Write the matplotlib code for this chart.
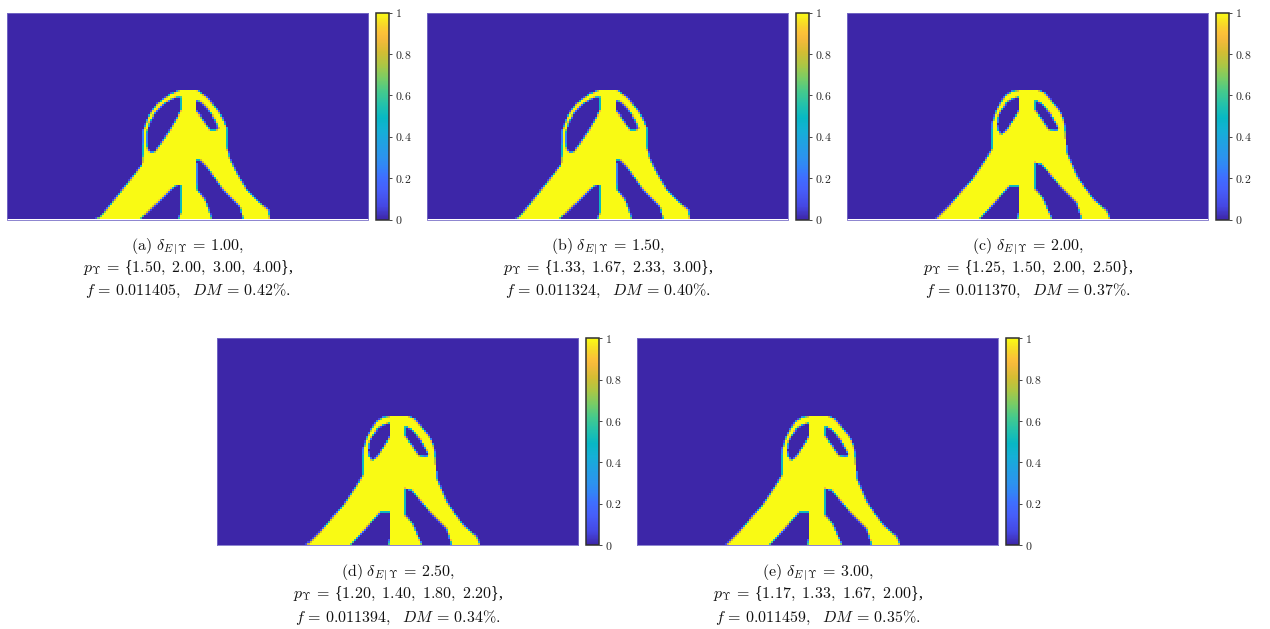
import numpy as np
import matplotlib
matplotlib.use("Agg")
import matplotlib.pyplot as plt
from matplotlib.path import Path
from matplotlib.colors import LinearSegmentedColormap

plt.rcParams['mathtext.fontset'] = 'cm'
plt.rcParams['font.family'] = ['Liberation Serif', 'DejaVu Serif']

# ---------------- data ----------------
labels = ['a', 'b', 'c', 'd', 'e']
delta = [1.00, 1.50, 2.00, 2.50, 3.00]
p_sets = [[1.50, 2.00, 3.00, 4.00],
          [1.33, 1.67, 2.33, 3.00],
          [1.25, 1.50, 2.00, 2.50],
          [1.20, 1.40, 1.80, 2.20],
          [1.17, 1.33, 1.67, 2.00]]
f_vals = ['0.011405', '0.011324', '0.011370', '0.011394', '0.011459']
dm_vals = [0.42, 0.40, 0.37, 0.34, 0.35]
shape_of_panel = ['A', 'A', 'D', 'D', 'D']

cbar_ticks = [0, 0.2, 0.4, 0.6, 0.8, 1]
cbar_ticklabels = ['0', '0.2', '0.4', '0.6', '0.8', '1']

# design domain (x to the right, y downward from top), density-field outlines
DOM_W, DOM_H = 361.0, 206.6
NX, NY = 180, 103

outer_A = [(89.7, 206.6), (96, 200.6), (109.4, 184), (122.7, 167.3), (134.4, 152.3),
           (135.4, 140.6), (136, 117.3), (141, 104), (149.4, 92.3), (162.7, 82.3),
           (171, 79), (172.7, 78), (189.4, 78), (199.4, 85.6), (209.4, 97.3),
           (216, 107.3), (219.4, 115.6), (219.4, 134), (222.7, 147.3), (229.4, 160.6),
           (239.4, 177.3), (252.7, 190.6), (261, 197.3), (262.7, 206.6),
           (236, 206.6), (232.7, 194), (216, 177.3), (199.4, 154), (192.7, 147.3),
           (188.7, 147.3), (189.4, 177.3), (197.7, 187.3), (204.4, 206.6),
           (171, 206.6), (173.4, 200.6), (173.4, 172.3), (169.4, 172.3),
           (162.7, 177.3), (149.4, 190.6), (132.7, 206.6)]
holes_A = [
    [(173.2, 84.3), (164.7, 86.8), (155.7, 92.3), (147.7, 100.3), (142.2, 109.3),
     (139.2, 119.3), (138.7, 129.3), (140.2, 137.3), (143.7, 140.3), (147.7, 138.8),
     (154.7, 129.3), (162.7, 117.3), (169.7, 105.3), (173.7, 97.3)],
    [(188.7, 88.3), (193.7, 90.3), (200.7, 97.3), (207.7, 107.3), (211.2, 115.3),
     (208.7, 117.3), (202.7, 117.3), (196.7, 109.3), (191.7, 102.3), (188.7, 99.3)],
]

outer_D = [(89.4, 206.6), (102.7, 193.4), (114, 180), (126, 166.7), (139.4, 146.7),
           (145.4, 136.7), (145.4, 120), (146, 110), (149.4, 100), (154, 91),
           (159.4, 83.4), (166, 79.5), (172.7, 78.4), (191, 78.4), (197, 81),
           (206, 91.7), (212, 99), (216, 106.7), (217.7, 116.7), (219.4, 140),
           (229.4, 163.4), (238, 176), (246, 186.7), (259.4, 198.4), (262.7, 206.6),
           (234.4, 206.6), (229.4, 190), (212.7, 173.4), (194.4, 151.7), (187.7, 150),
           (187.7, 176.7), (195, 185), (204.4, 206.6),
           (171, 206.6), (172.7, 200), (172.7, 173.4), (162.7, 173.4), (148, 190),
           (132.7, 206.6)]
holes_D = [
    [(172.7, 85), (166, 86.7), (160, 90.5), (156, 96.7), (152.5, 101.5), (151, 106.7),
     (150.5, 112), (151, 116.7), (154.4, 121.7), (157.5, 120), (161, 116.7),
     (165, 110), (169.4, 103.4), (172.7, 98.4)],
    [(187.7, 88.4), (194.4, 91.7), (204.4, 103.4), (211, 115), (209.4, 118.4),
     (201, 116.7), (194.4, 106.7), (187.7, 98.4)],
]
shapes = {'A': (outer_A, holes_A), 'D': (outer_D, holes_D)}

# parula-like colormap anchors
parula_pos = [0.0, 0.0635, 0.143, 0.206, 0.254, 0.302, 0.365, 0.429, 0.492, 0.556,
              0.619, 0.683, 0.746, 0.81, 0.873, 0.905, 0.937, 1.0]
parula_rgb = [(0.2422, 0.1504, 0.6603), (0.27, 0.28, 0.89), (0.276, 0.37, 0.98),
              (0.244, 0.436, 0.999), (0.1986, 0.52, 0.97), (0.17, 0.58, 0.93),
              (0.13, 0.63, 0.89), (0.08, 0.69, 0.84), (0.03, 0.72, 0.77),
              (0.14, 0.76, 0.67), (0.27, 0.79, 0.55), (0.47, 0.80, 0.40),
              (0.67, 0.78, 0.27), (0.83, 0.74, 0.20), (0.96, 0.73, 0.23),
              (0.99, 0.76, 0.22), (0.97, 0.83, 0.17), (0.9769, 0.9839, 0.0805)]
parula = LinearSegmentedColormap.from_list('parula', list(zip(parula_pos, parula_rgb)))


def density(outer, holes, ss=4):
    xs = (np.arange(NX * ss) + 0.5) / (NX * ss) * DOM_W
    ys = (np.arange(NY * ss) + 0.5) / (NY * ss) * DOM_H
    X, Y = np.meshgrid(xs, ys)
    pts = np.column_stack([X.ravel(), Y.ravel()])
    inside = Path(outer).contains_points(pts)
    for h in holes:
        inside &= ~Path(h).contains_points(pts)
    m = inside.reshape(NY * ss, NX * ss).astype(float)
    return m.reshape(NY, ss, NX, ss).mean(axis=(1, 3))


fields = {k: density(*v) for k, v in shapes.items()}

# ---------------- layout ----------------
W, H = 1270, 629
fig = plt.figure(figsize=(W / 100, H / 100), dpi=100)


def add_ax(l, t, w, h):
    return fig.add_axes([l / W, 1 - (t + h) / H, w / W, h / H])


img_left = [7.3, 427.3, 847.3, 217.3, 637.3]
img_top = [12.7, 12.7, 12.7, 338.3, 338.3]
cap_base = [[249.3, 271.9, 295.0]] * 3 + [[575.0, 598.3, 621.7]] * 2
img_w, img_h = 361.0, 206.8

for i in range(5):
    ax = add_ax(img_left[i], img_top[i], img_w, img_h)
    im = ax.imshow(fields[shape_of_panel[i]], cmap=parula, vmin=0, vmax=1,
                   interpolation='nearest', aspect='auto',
                   extent=(0, DOM_W, DOM_H, 0))
    ax.set_xticks([])
    ax.set_yticks([])
    for s in ax.spines.values():
        s.set_color('#7a70c8')
        s.set_linewidth(0.6)

    cax = add_ax(img_left[i] + 368.3, img_top[i], 13.6, img_h)
    cb = fig.colorbar(im, cax=cax, ticks=cbar_ticks)
    cb.ax.set_yticklabels(['$%s$' % s for s in cbar_ticklabels])
    cb.ax.tick_params(direction='out', length=2, width=0.6, colors='#262626',
                      labelsize=8.5, pad=2.5)
    cb.outline.set_linewidth(1.1)
    cb.outline.set_edgecolor('#303030')

    cx = (img_left[i] + img_w / 2) / W
    ps = r',\ '.join('%.2f' % v for v in p_sets[i])
    lines = [r'$\mathrm{(%s)}\ \delta_{E\,|\,\Upsilon}\,=\,%.2f,$' % (labels[i], delta[i]),
             r'$p_{\Upsilon}\,=\,$' + '{' + r'$%s$' % ps + '},',
             r'$f\,=\,%s,\ \ DM\,=\,%.2f\%%.$' % (f_vals[i], dm_vals[i])]
    for ln, yb in zip(lines, cap_base[i]):
        fig.text(cx, 1 - yb / H, ln, ha='center', va='baseline', fontsize=11.5,
                 color='#111111')

fig.savefig('out.png', dpi=100)
